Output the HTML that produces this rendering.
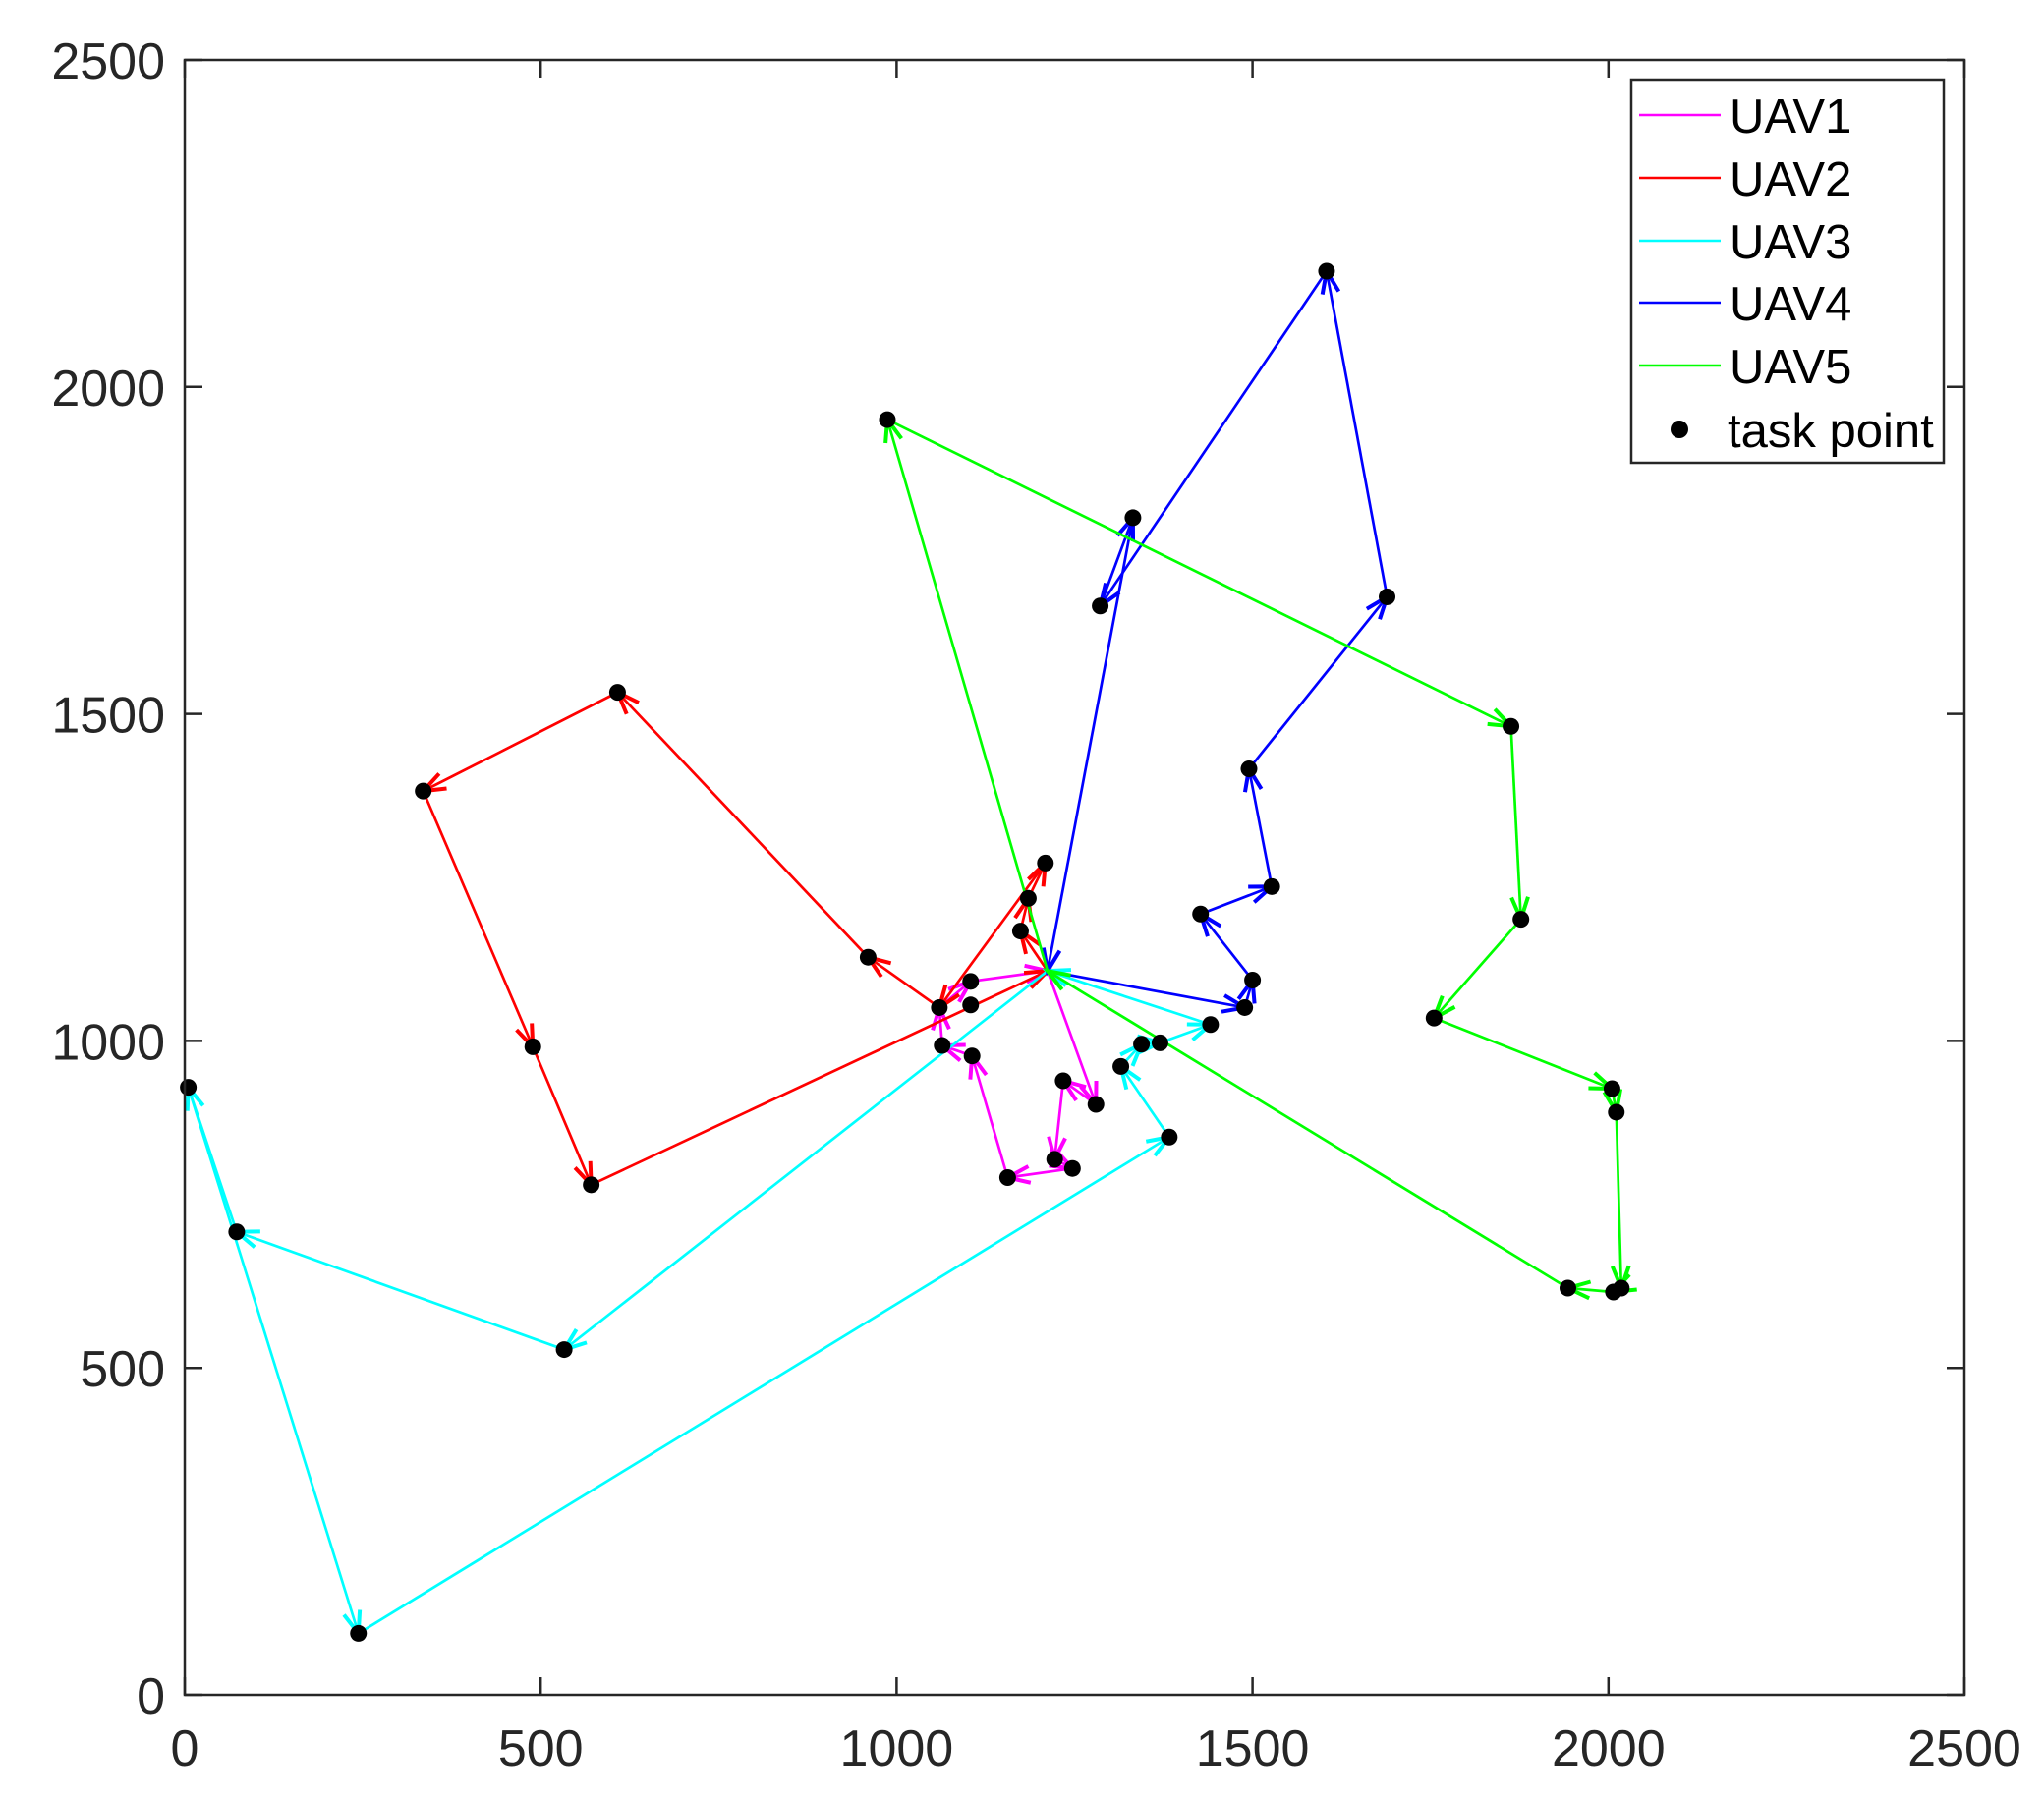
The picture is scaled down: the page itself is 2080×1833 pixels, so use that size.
<!DOCTYPE html>
<html><head><meta charset="utf-8"><style>
html,body{margin:0;padding:0;background:#fff;}
svg{display:block;font-family:"Liberation Sans",Arial,sans-serif;}
</style></head><body>
<svg id="chart" width="2080" height="1833" viewBox="0 0 2080 1833" xmlns="http://www.w3.org/2000/svg">
<rect x="0" y="0" width="2080" height="1833" fill="#fff"/>
<g id="series"></g>
<g id="points"></g>
<g id="axes"></g>
<g id="legend">
<rect x="1660" y="81" width="318" height="390" fill="#fff" stroke="#262626" stroke-width="2.5"/>
<line x1="1668" y1="117" x2="1751" y2="117" stroke="#ff00ff" stroke-width="2.5"/>
<text x="1760" y="135" font-size="49" fill="#000">UAV1</text>
<line x1="1668" y1="181" x2="1751" y2="181" stroke="#ff0000" stroke-width="2.5"/>
<text x="1760" y="199" font-size="49" fill="#000">UAV2</text>
<line x1="1668" y1="245" x2="1751" y2="245" stroke="#00ffff" stroke-width="2.5"/>
<text x="1760" y="263" font-size="49" fill="#000">UAV3</text>
<line x1="1668" y1="308" x2="1751" y2="308" stroke="#0000ff" stroke-width="2.5"/>
<text x="1760" y="326" font-size="49" fill="#000">UAV4</text>
<line x1="1668" y1="372" x2="1751" y2="372" stroke="#00ff00" stroke-width="2.5"/>
<text x="1760" y="390" font-size="49" fill="#000">UAV5</text>
<circle cx="1709" cy="437" r="9" fill="#000"/>
<text x="1758" y="455" font-size="49" fill="#000">task point</text>
</g>
</svg>
<script>
const xTicks = [0, 500, 1000, 1500, 2000, 2500];
const yTicks = [0, 500, 1000, 1500, 2000, 2500];
const depot = [1212, 1107];
const uav1 = [[1212,1107],[1280,903],[1234,939],[1222,819],[1247,805],[1156,791],[1106,977],[1064,993],[1060,1051],[1104,1091],[1212,1107]];
const uav2 = [[1212,1107],[1174,1168],[1185,1218],[1209,1272],[1060,1051],[960,1128],[608,1533],[335,1382],[489,991],[571,780],[1212,1107]];
const uav3 = [[1212,1107],[533,528],[73,708],[5,929],[244,94],[1383,853],[1315,961],[1344,995],[1370,997],[1441,1025],[1212,1107]];
const uav4 = [[1212,1107],[1489,1051],[1500,1093],[1427,1194],[1527,1236],[1495,1416],[1689,1679],[1604,2177],[1286,1665],[1332,1800],[1212,1107]];
const uav5 = [[1212,1107],[987,1950],[1863,1481],[1877,1186],[1755,1035],[2005,927],[2011,891],[2018,622],[2007,616],[1943,622],[1212,1107]];
const taskPoints = [[1209,1272],[1185,1218],[1174,1168],[960,1128],[1060,1051],[1104,1091],[1104,1055],[1064,993],[1106,977],[1156,791],[1222,819],[1247,805],[1234,939],[1280,903],[608,1533],[335,1382],[489,991],[571,780],[5,929],[73,708],[533,528],[244,94],[1383,853],[1315,961],[1344,995],[1370,997],[1441,1025],[1489,1051],[1500,1093],[1427,1194],[1527,1236],[1495,1416],[1689,1679],[1604,2177],[1332,1800],[1286,1665],[987,1950],[1863,1481],[1877,1186],[1755,1035],[2005,927],[2011,891],[2018,622],[2007,616],[1943,622]];

const NS = "http://www.w3.org/2000/svg";
const L = 188, R = 1999, T = 61, B = 1725;
const sx = v => L + (v / 2500) * (R - L);
const sy = v => B - (v / 2500) * (B - T);
function mk(tag, attrs, parent) {
  const e = document.createElementNS(NS, tag);
  for (const k in attrs) e.setAttribute(k, attrs[k]);
  parent.appendChild(e);
  return e;
}
const gS = document.getElementById('series');
const gP = document.getElementById('points');
const gA = document.getElementById('axes');

const routes = [[uav1,'#ff00ff','uav1'],[uav2,'#ff0000','uav2'],[uav3,'#00ffff','uav3'],[uav4,'#0000ff','uav4'],[uav5,'#00ff00','uav5']];
routes.forEach(([pts, col, nm]) => {
  const g = mk('g', {}, gS);
  
  
  for (let i = 0; i < pts.length - 1; i++) {
    const x1 = sx(pts[i][0]), y1 = sy(pts[i][1]), x2 = sx(pts[i+1][0]), y2 = sy(pts[i+1][1]);
    const ln = mk('line', {x1, y1, x2, y2, stroke: col, 'stroke-width': 2.7}, g);
    
    
    const a = Math.atan2(y2 - y1, x2 - x1), len = 24, sp = 0.36;
    const d = `M${x2 - len*Math.cos(a-sp)},${y2 - len*Math.sin(a-sp)} L${x2},${y2} L${x2 - len*Math.cos(a+sp)},${y2 - len*Math.sin(a+sp)}`;
    const ah = mk('path', {d, fill: 'none', stroke: col, 'stroke-width': 4, 'stroke-linejoin': 'miter'}, g);
    
    
  }
});
taskPoints.forEach(p => {
  const c = mk('circle', {cx: sx(p[0]), cy: sy(p[1]), r: 8.5, fill: '#000'}, gP);
  
  
});
const box = mk('rect', {x: L, y: T, width: R - L, height: B - T, fill: 'none', stroke: '#262626', 'stroke-width': 2.5}, gA);


xTicks.forEach(v => {
  const x = sx(v);
  mk('line', {x1: x, y1: B, x2: x, y2: B - 18, stroke: '#262626', 'stroke-width': 2.5}, gA);
  mk('line', {x1: x, y1: T, x2: x, y2: T + 18, stroke: '#262626', 'stroke-width': 2.5}, gA);
  const t = mk('text', {x: x, y: 1797, 'font-size': 52, 'text-anchor': 'middle', fill: '#262626'}, gA);
  t.textContent = v;
  
  
});
yTicks.forEach(v => {
  const y = sy(v);
  mk('line', {x1: L, y1: y, x2: L + 18, y2: y, stroke: '#262626', 'stroke-width': 2.5}, gA);
  mk('line', {x1: R, y1: y, x2: R - 18, y2: y, stroke: '#262626', 'stroke-width': 2.5}, gA);
  const t = mk('text', {x: 168, y: y + 19, 'font-size': 52, 'text-anchor': 'end', fill: '#262626'}, gA);
  t.textContent = v;
  
  
});
</script>
</body></html>
